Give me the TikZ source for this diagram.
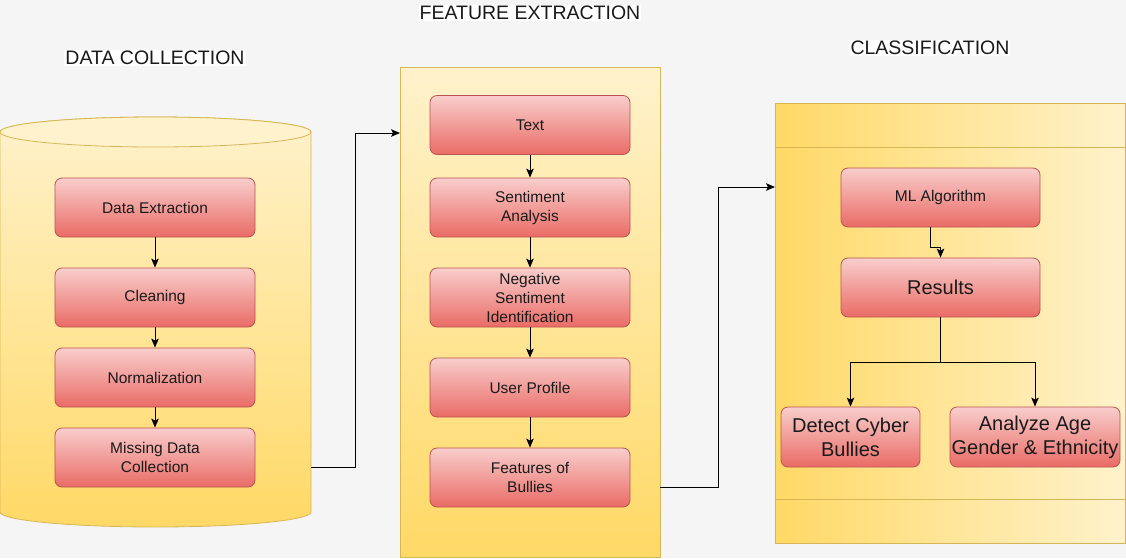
\documentclass[tikz,border=0pt]{standalone}
\usepackage{fontspec}
\setmainfont{Liberation Sans}
\usetikzlibrary{arrows.meta,calc}
\definecolor{bgc}{HTML}{F5F5F5}
\definecolor{ylight}{HTML}{FFF2CC}
\definecolor{ydark}{HTML}{FFD966}
\definecolor{yborder}{HTML}{D6B656}
\definecolor{rlight}{HTML}{F8CECC}
\definecolor{rdark}{HTML}{EA6B66}
\definecolor{rborder}{HTML}{B85450}
\definecolor{txt}{HTML}{1A1A1A}
\tikzset{
  redbox/.style={rounded corners=7pt, draw=rborder, line width=0.8pt, top color=rlight, bottom color=rdark,
    minimum width=200pt, minimum height=59pt, align=center, text=txt, inner sep=2pt,
    font=\fontsize{15.5}{19}\selectfont},
  bigtext/.style={font=\fontsize{20}{24}\selectfont},
  title/.style={fill=white, text=txt, inner sep=1pt, font=\fontsize{19.5}{23}\selectfont},
  conn/.style={line width=0.9pt, -{Stealth[length=9pt,width=7.5pt,inset=2pt]}},
  plain/.style={line width=0.9pt},
  panel/.style={draw=yborder, line width=0.8pt}
}
\begin{document}
\begin{tikzpicture}[x=1pt,y=-1pt]
\fill[bgc] (0,0) rectangle (1126,558);
\useasboundingbox (0,0) rectangle (1126,558);

% titles
\node[title] (t1) at (155,58) {DATA COLLECTION};
\node[title] (t2) at (530,13) {FEATURE EXTRACTION};
\node[title] (t3) at (930,48) {CLASSIFICATION};

% cylinder
\shade[top color=ylight, bottom color=ydark, draw=yborder, line width=0.8pt]
  (0,132) -- (0,512) arc[start angle=180, end angle=360, x radius=155.5pt, y radius=15pt] -- (311,132)
  arc[start angle=0, end angle=180, x radius=155.5pt, y radius=15pt] -- cycle;
\fill[ylight, draw=yborder, line width=0.8pt] (155.5,132) ellipse[x radius=155.5pt, y radius=15pt];
\coordinate (cylout) at (311,467);

% feature extraction panel
\node[panel, top color=ylight, bottom color=ydark, minimum width=260pt, minimum height=490pt, inner sep=0pt] (fe) at (530,312) {};
% classification panel
\node[panel, left color=ydark, right color=ylight, minimum width=350pt, minimum height=440pt, inner sep=0pt] (cl) at (950,323) {};
\draw[yborder, line width=0.8pt] (775,147) -- (1125,147);
\draw[yborder, line width=0.8pt] (775,499) -- (1125,499);

% data collection boxes
\node[redbox] (de) at (155,207.5) {Data Extraction};
\node[redbox] (cn) at (155,297.5) {Cleaning};
\node[redbox] (nm) at (155,377.5) {Normalization};
\node[redbox] (md) at (155,457.5) {Missing Data\\Collection};

% feature boxes
\node[redbox] (tx) at (530,125) {\raisebox{-2pt}{Text}};
\node[redbox] (sa) at (530,207.5) {Sentiment\\Analysis};
\node[redbox] (ns) at (530,297.5) {Negative\\Sentiment\\Identification};
\node[redbox] (up) at (530,387.5) {User Profile};
\node[redbox] (fb) at (530,477.5) {Features of\\Bullies};

% classification boxes
\node[redbox, minimum width=199pt] (ml) at (940.5,197.5) {ML Algorithm};
\node[redbox, bigtext, minimum width=199pt] (rs) at (940.5,287.5) {\raisebox{-4pt}{Results}};
\node[redbox, bigtext, minimum width=139pt, minimum height=60pt, inner sep=1pt] (dc) at (850.5,437) {Detect Cyber\\Bullies};
\node[redbox, bigtext, minimum width=170pt, minimum height=60pt, inner sep=1pt] (an) at (1035,437) {Analyze Age\\Gender \& Ethnicity};

% connectors inside
\draw[conn] (de) -- (cn);
\draw[conn] (cn) -- (nm);
\draw[conn] (nm) -- (md);
\draw[conn] (tx) -- (sa);
\draw[conn] (sa) -- (ns);
\draw[conn] (ns) -- (up);
\draw[conn] (up) -- (fb);
\draw[conn] (ml.south -| 930,0) -- (930,247) -| (rs.north);
\coordinate (split) at (rs.south |- 0,362);
\draw[plain] (rs.south) -- (split);
\draw[conn] (split) -| (dc.north);
\draw[conn] (split) -| (an.north);

% between stages
\coordinate (fein) at (400,133);
\draw[conn] (cylout) -- (355,467) |- (fein);
\coordinate (feout) at (660,487);
\coordinate (clin) at (775,187);
\draw[conn] (feout) -- (718,487) |- (clin);
\end{tikzpicture}
\end{document}
